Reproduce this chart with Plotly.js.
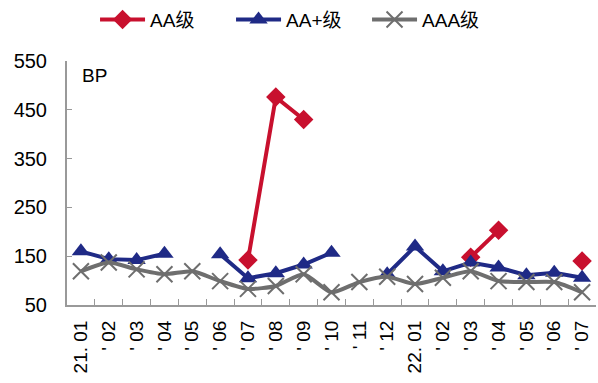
<!DOCTYPE html>
<html>
<head>
<meta charset="utf-8">
<script src="https://cdn.plot.ly/plotly-3.0.1.min.js"></script>
<style>
  html, body { margin: 0; padding: 0; background: #fff; }
  #chart { width: 598px; height: 383px; }
</style>
</head>
<body>
<div id="chart"></div>
<script>
// Monthly categories, 2021.01 – 2022.07
const months = ["21. 01", "' 02", "' 03", "' 04", "' 05", "' 06", "' 07", "' 08", "' 09", "' 10",
                "' 11", "' 12", "22. 01", "' 02", "' 03", "' 04", "' 05", "' 06", "' 07"];
// Category keys kept unique so the repeated month labels stay separate
const monthKeys = ["2021-01", "2021-02", "2021-03", "2021-04", "2021-05", "2021-06", "2021-07",
                   "2021-08", "2021-09", "2021-10", "2021-11", "2021-12", "2022-01", "2022-02",
                   "2022-03", "2022-04", "2022-05", "2022-06", "2022-07"];

// Spreads in BP (null = no issuance that month)
const aa     = [null, null, null, null, null, null, 142, 476, 430, null, null, null, null, null, 148, 203, null, null, 140];
const aaPlus = [160, 144, 142, 155, null, 154, 105, 115, 133, 157, null, 113, 170, 119, 137, 127, 111, 116, 106];
const aaa    = [119, 137, 123, 113, 119, 99, 83, 89, 113, 76, 97, 108, 93, 106, 119, 99, 97, 97, 76];

const seriesNames = ["AA级", "AA+级", "AAA级"];

const font = "Arial, 'Liberation Sans', 'Noto Sans CJK SC', sans-serif";

const traces = [
  {
    x: monthKeys, y: aa, name: seriesNames[0], type: "scatter", mode: "lines+markers",
    connectgaps: false,
    line: { color: "#C8102E", width: 4 },
    marker: { symbol: "diamond", size: 15, color: "#C8102E" }
  },
  {
    x: monthKeys, y: aaPlus, name: seriesNames[1], type: "scatter", mode: "lines+markers",
    connectgaps: false,
    line: { color: "#1F2A86", width: 4 },
    marker: { symbol: "triangle-up", size: 16, color: "#1F2A86" }
  },
  {
    x: monthKeys, y: aaa, name: seriesNames[2], type: "scatter", mode: "lines+markers",
    connectgaps: false,
    line: { color: "#6E6E6E", width: 4, shape: "spline", smoothing: 0.6 },
    marker: { symbol: "x-thin-open", size: 16, color: "#6E6E6E", line: { width: 2, color: "#6E6E6E" } }
  }
];

const layout = {
  width: 598, height: 383,
  margin: { l: 67, r: 2, t: 60, b: 78 },
  paper_bgcolor: "#fff", plot_bgcolor: "#fff",
  font: { family: font, size: 18, color: "#000" },
  showlegend: true,
  legend: {
    orientation: "h", x: 0.053, xanchor: "left", y: 1.165, yanchor: "middle",
    font: { family: font, size: 19, color: "#000" },
    itemwidth: 45, entrywidth: 76, entrywidthmode: "pixels",
    tracegroupgap: 0, traceorder: "normal"
  },
  xaxis: {
    type: "category",
    tickmode: "array", tickvals: monthKeys, ticktext: months,
    tickangle: -90,
    tickson: "boundaries",
    ticks: "inside", ticklen: 6, tickcolor: "#999", tickwidth: 1,
    ticklabelstandoff: 6,
    showline: true, linecolor: "#999", linewidth: 2,
    showgrid: false, zeroline: false,
    tickfont: { family: font, size: 19, color: "#000" },
    range: [-0.5, 18.5]
  },
  yaxis: {
    range: [50, 550], tickvals: [50, 150, 250, 350, 450, 550],
    ticks: "inside", ticklen: 5, tickcolor: "#999", tickwidth: 1,
    ticklabelstandoff: 14,
    showline: true, linecolor: "#999", linewidth: 2,
    showgrid: false, zeroline: false,
    tickfont: { family: font, size: 20, color: "#000" }
  },
  annotations: [
    { text: "BP", xref: "paper", yref: "paper", x: 0.025, y: 0.99, xanchor: "left", yanchor: "top",
      showarrow: false, font: { family: font, size: 19, color: "#000" } }
  ]
};

Plotly.newPlot("chart", traces, layout, { displayModeBar: false, staticPlot: true });
</script>
</body>
</html>
